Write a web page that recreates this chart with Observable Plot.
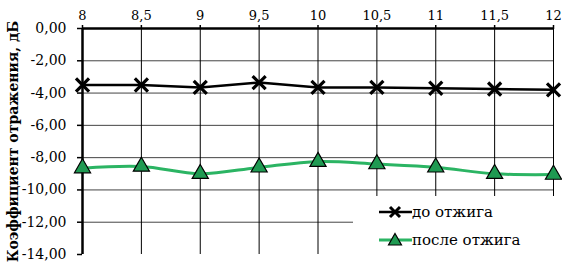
<!DOCTYPE html>
<html><head><meta charset="utf-8">
<script src="https://cdn.jsdelivr.net/npm/d3@7"></script>
<script src="https://cdn.jsdelivr.net/npm/@observablehq/plot@0.6"></script>
<style>
body{margin:0;background:#fff;}
#wrap{position:relative;width:562px;height:264px;overflow:hidden;}
#wrap svg, #wrap svg text{font-family:"DejaVu Serif",serif !important;}
g[aria-label="y-axis label"] text{font-weight:bold;font-size:14px;}
g[aria-label="y-axis tick label"] text{font-size:14px;}
g[aria-label="x-axis tick label"] text{font-size:13px;}
#legend{position:absolute;left:353px;top:196px;width:209px;height:68px;background:#fff;font-family:"DejaVu Serif",serif !important;font-size:15px;color:#000;}
#legend .row{position:absolute;left:26px;height:20px;display:flex;align-items:center;}
</style></head>
<body><div id="wrap"></div>
<script>
const freq = [8, 8.5, 9, 9.5, 10, 10.5, 11, 11.5, 12];
const before = [-3.5, -3.5, -3.65, -3.35, -3.65, -3.65, -3.7, -3.75, -3.8];
const after = [-8.65, -8.55, -9.0, -8.6, -8.25, -8.4, -8.6, -9.0, -9.05];
const seriesNames = ["до отжига", "после отжига"];
const yTicks = [0, -2, -4, -6, -8, -10, -12, -14];
const green = "#2bb463";
const greenFill = "#1f9a52";

const dBefore = freq.map((f, i) => ({f, v: before[i]}));
const dAfter = freq.map((f, i) => ({f, v: after[i]}));
const fmtY = d => d.toFixed(2).replace(".", ",");
const fmtX = d => String(d).replace(".", ",");

const chart = Plot.plot({
  width: 562, height: 264,
  marginLeft: 82, marginRight: 9, marginTop: 28, marginBottom: 10,
  style: {fontFamily: "'DejaVu Serif', serif", color: "#000"},
  x: {domain: [8, 12]},
  y: {domain: [-14, 0]},
  marks: [
    Plot.gridY(yTicks.filter(t => t > -14 && t < 0), {stroke: "#444", strokeOpacity: 1, strokeWidth: 1}),
    Plot.gridX(freq.slice(1), {stroke: "#000", strokeOpacity: 1, strokeWidth: 1}),
    Plot.axisX(freq, {anchor: "top", tickFormat: fmtX, tickSize: 4, tickPadding: 5, label: null, stroke: "#000", strokeWidth: 1.5}),
    Plot.axisY(yTicks, {anchor: "left", tickFormat: fmtY, tickSize: 5, tickPadding: 11, label: "Коэффициент отражения, дБ", labelAnchor: "center", labelOffset: 74, labelArrow: "none", strokeWidth: 1.5}),
    Plot.ruleY([0], {stroke: "#000", strokeWidth: 2.5}),
    Plot.ruleX([8], {stroke: "#000", strokeWidth: 2.5}),
    Plot.line(dBefore, {x: "f", y: "v", stroke: "#000", strokeWidth: 2.5}),
    Plot.dot(dBefore, {x: "f", y: "v", symbol: "times", r: 6, stroke: "#000", strokeWidth: 3.2}),
    Plot.line(dAfter, {x: "f", y: "v", stroke: green, strokeWidth: 3, curve: "catmull-rom"}),
    Plot.dot(dAfter, {x: "f", y: "v", symbol: "triangle", r: 6, fill: greenFill, stroke: "#000", strokeWidth: 1.2})
  ]
});
const wrap = document.getElementById("wrap");
wrap.appendChild(chart);

const legend = document.createElement("div");
legend.id = "legend";
const items = [
  {name: seriesNames[0], stroke: "#000", sym: "x"},
  {name: seriesNames[1], stroke: green, sym: "tri"}
];
items.forEach((it, i) => {
  const row = document.createElement("div");
  row.className = "row";
  row.style.top = (6 + i * 28) + "px";
  const s = it.sym === "x"
    ? `<path d="M11,4L21,14M21,4L11,14" stroke="#000" stroke-width="3"/>`
    : `<path d="M16,2.5L22.5,14L9.5,14Z" fill="${greenFill}" stroke="#000" stroke-width="1.2"/>`;
  row.innerHTML = `<svg width="33" height="18"><line x1="0" y1="9" x2="33" y2="9" stroke="${it.stroke}" stroke-width="${it.sym==='x'?2.5:3}"/>${s}</svg><span>${it.name}</span>`;
  legend.appendChild(row);
});
wrap.appendChild(legend);
</script></body></html>
